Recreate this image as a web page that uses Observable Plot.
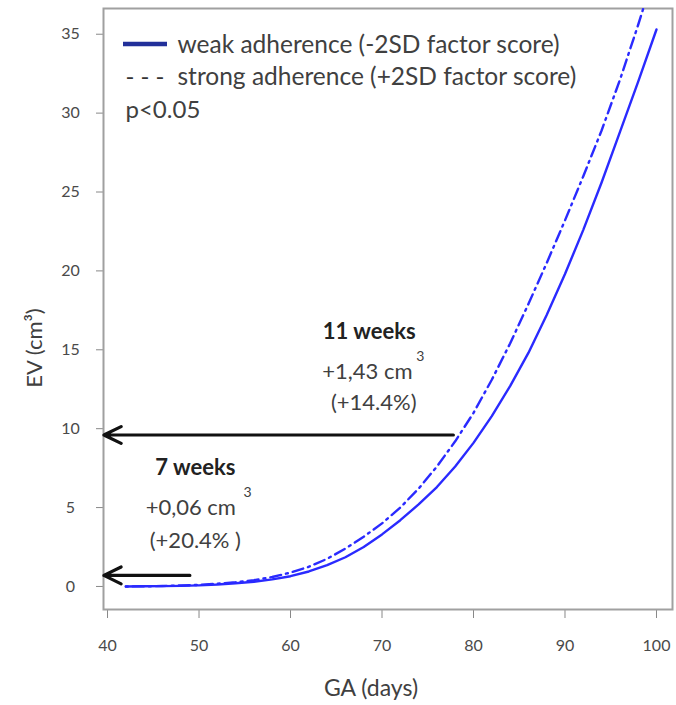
<!DOCTYPE html>
<html><head><meta charset="utf-8">
<script src="https://cdn.jsdelivr.net/npm/d3@7"></script>
<script src="https://cdn.jsdelivr.net/npm/@observablehq/plot@0.6"></script>
<style>
body{margin:0;background:#fff}
#chart{width:676px;height:705px}
</style>
</head><body><div id="chart"></div>
<script>
// ---- data ----
const gaDays = [42,44,46,48,50,52,54,56,58,60,62,64,66,68,70,72,74,76,78,80,82,84,86,88,90,92,94,96,98,100];
const weakEV = [0.00,0.01,0.02,0.04,0.07,0.12,0.20,0.30,0.45,0.65,0.95,1.35,1.85,2.50,3.30,4.20,5.20,6.30,7.60,9.10,10.80,12.70,14.80,17.20,19.80,22.60,25.60,28.80,32.00,35.30];
const strongEV = [0.00,0.01,0.03,0.06,0.10,0.17,0.27,0.40,0.60,0.88,1.25,1.75,2.40,3.15,4.00,5.00,6.20,7.60,9.20,11.00,13.10,15.40,17.90,20.50,23.20,26.00,28.90,32.10,35.60,39.30];
const xTicks = [40,50,60,70,80,90,100];
const yTicks = [0,5,10,15,20,25,30,35];
const seriesNames = ["weak adherence (-2SD factor score)", "strong adherence (+2SD factor score)"];
const pText = "p<0.05";
// arrows: from the curve to the y axis
const arrowGA = [77.8, 49.0];
const arrowEV = [9.6, 0.7];
// annotation texts
const noteLabels = ["11 weeks", "+1,43 cm", "(+14.4%)", "7 weeks", "+0,06 cm", "(+20.4% )"];
const noteGA = [68.6, 68.4, 69.1, 49.6, 49.1, 49.6];
const noteEV = [16.1, 13.6, 11.6, 7.5, 4.95, 2.9];
const noteBold = [true, false, false, true, false, false];
const supGA = [74.2, 55.3];
const supEV = [14.6, 5.95];

// ---- tables ----
const weak = gaDays.map((d, i) => ({ga: d, ev: weakEV[i]}));
const strong = gaDays.map((d, i) => ({ga: d, ev: strongEV[i]}));
const arrows = arrowGA.map((g, i) => ({x1: g, y1: arrowEV[i], x2: 39.6, y2: arrowEV[i]}));
const notes = noteLabels.map((t, i) => ({t, x: noteGA[i], y: noteEV[i], b: noteBold[i]}));
const sups = supGA.map((g, i) => ({x: g, y: supEV[i]}));

const font = "Lato, 'Open Sans', sans-serif";
const blue = "#2a2aff";
const textCol = "#404040";

const plot = Plot.plot({
  width: 676,
  height: 705,
  marginLeft: 103,
  marginRight: 4,
  marginTop: 8,
  marginBottom: 96,
  style: {fontFamily: font, background: "#fff", color: textCol},
  x: {domain: [39.56, 101.75], label: null},
  y: {domain: [-1.46, 36.63], label: null},
  marks: [
    Plot.axisY({ticks: yTicks, tickSize: 7, tickPadding: 26, textAnchor: "middle", fontSize: 16, stroke: "#888", fill: "#4a4a4a", label: null}),
    Plot.axisX({ticks: xTicks, tickSize: 9, tickPadding: 21, fontSize: 16, stroke: "#888", fill: "#4a4a4a", label: null}),
    Plot.frame({stroke: "#a0a0a0", strokeWidth: 2}),
    Plot.line(weak, {x: "ga", y: "ev", stroke: blue, strokeWidth: 2.4, clip: true}),
    Plot.line(strong, {x: "ga", y: "ev", stroke: blue, strokeWidth: 2.4, strokeDasharray: "2,5,11,5", clip: true}),
    Plot.arrow(arrows, {x1: "x1", y1: "y1", x2: "x2", y2: "y2", stroke: "#111", strokeWidth: 3.2, headLength: 9, headAngle: 52}),
    Plot.text(notes.filter(d => !d.b), {x: "x", y: "y", text: "t", fontSize: 22, fill: textCol, textAnchor: "middle", lineAnchor: "middle"}),
    Plot.text(notes.filter(d => d.b), {x: "x", y: "y", text: "t", fontSize: 22, fill: "#222", fontWeight: "bold", textAnchor: "middle", lineAnchor: "middle"}),
    Plot.text(sups, {x: "x", y: "y", text: () => "3", fontSize: 14, fill: textCol, textAnchor: "middle", lineAnchor: "middle"}),
    // legend texts
    Plot.text([seriesNames[0]], {frameAnchor: "top-left", dx: 74, dy: 37, fontSize: 24.5, fill: textCol, textAnchor: "start", lineAnchor: "middle"}),
    Plot.text([seriesNames[1]], {frameAnchor: "top-left", dx: 74, dy: 69, fontSize: 24.5, fill: textCol, textAnchor: "start", lineAnchor: "middle"}),
    Plot.text(["- - -"], {frameAnchor: "top-left", dx: 22, dy: 69, fontSize: 24, fill: "#333", textAnchor: "start", lineAnchor: "middle"}),
    Plot.text([pText], {frameAnchor: "top-left", dx: 22, dy: 102, fontSize: 24, fill: textCol, textAnchor: "start", lineAnchor: "middle"}),
    // axis titles
    Plot.text(["GA (days)"], {frameAnchor: "bottom", dx: -17, dy: 79, fontSize: 23, fill: textCol, textAnchor: "middle", lineAnchor: "middle"}),
    Plot.text(["EV (cm³)"], {frameAnchor: "left", dx: -69, dy: 39, rotate: -90, fontSize: 22, fill: textCol, textAnchor: "middle", lineAnchor: "middle"})
  ]
});
document.getElementById("chart").append(plot);

// legend line sample for the solid series
d3.select(plot).append("line")
  .attr("x1", 123).attr("x2", 167).attr("y1", 44).attr("y2", 44)
  .attr("stroke", "#22309a").attr("stroke-width", 4.5);
</script>
</body></html>
